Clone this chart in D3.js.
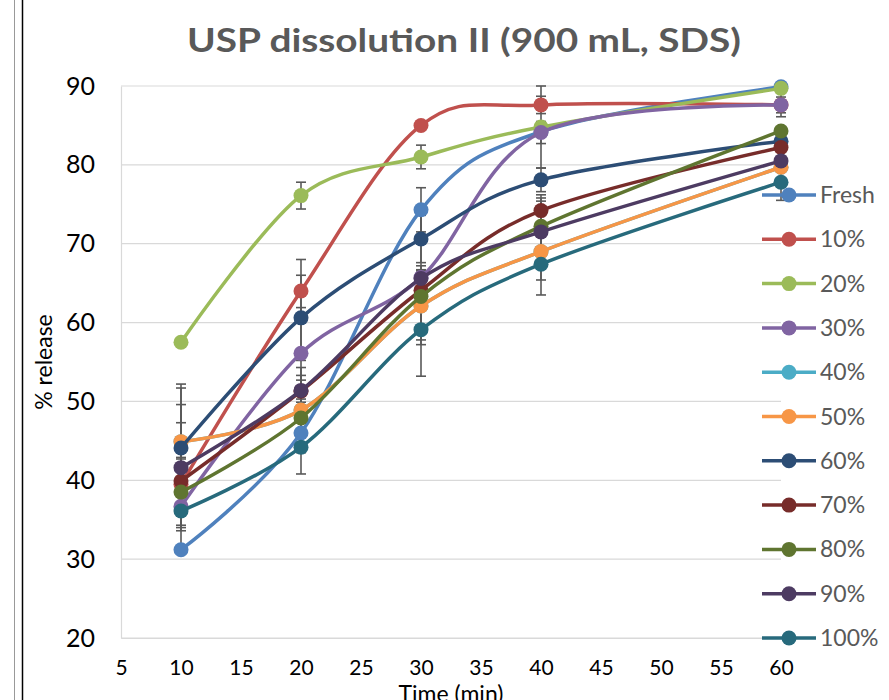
<!DOCTYPE html>
<html>
<head>
<meta charset="utf-8">
<script src="https://cdn.jsdelivr.net/npm/d3@7"></script>
<style>
  body { margin: 0; background: #fff; }
  svg { display: block; }
</style>
</head>
<body>
<svg id="chart" width="889" height="700"></svg>
<script>
// sampling times (min)
const times = [10, 20, 30, 40, 60];
const xTicks = [5, 10, 15, 20, 25, 30, 35, 40, 45, 50, 55, 60];
const yTicks = [20, 30, 40, 50, 60, 70, 80, 90];

const seriesNames = ["Fresh", "10%", "20%", "30%", "40%", "50%", "60%", "70%", "80%", "90%", "100%"];
const seriesColors = ["#4F81BD", "#C0504D", "#9BBB59", "#8064A2", "#4BACC6", "#F79646",
                      "#2C4D75", "#772C2A", "#5F7530", "#4D3B62", "#276A7C"];

// % release per series
const fresh = [31.2, 46.0, 74.3, 84.2, 89.9];
const p10 = [39.5, 64.0, 85.0, 87.6, 87.6];
const p20 = [57.5, 76.1, 81.0, 84.8, 89.7];
const p30 = [36.7, 56.1, 65.7, 84.1, 87.6];
const p40 = [44.9, 48.9, 62.1, 69.0, 79.7];
const p50 = [44.9, 48.9, 62.1, 69.0, 79.7];
const p60 = [44.1, 60.6, 70.6, 78.1, 83.0];
const p70 = [39.9, 51.3, 64.1, 74.2, 82.2];
const p80 = [38.5, 47.9, 63.3, 72.2, 84.3];
const p90 = [41.6, 51.4, 65.6, 71.5, 80.5];
const p100 = [36.1, 44.2, 59.1, 67.4, 77.8];

// +/- error (SD)
const errFresh = [0, 0, 2.8, 0, 0];
const err10 = [7.8, 4.0, 0, 1.1, 1.0];
const err20 = [0, 1.7, 1.5, 5.2, 0];
const err30 = [2.7, 5.8, 8.5, 1.4, 1.5];
const err40 = [0, 0, 0, 0, 0];
const err50 = [6.8, 5.4, 4.3, 5.5, 0];
const err60 = [8.1, 5.4, 3.0, 1.5, 0.5];
const err70 = [3.0, 1.4, 2.6, 2.0, 0.5];
const err80 = [4.2, 3.9, 3.9, 3.6, 0.5];
const err90 = [8.0, 1.9, 1.0, 3.9, 0.5];
const err100 = [0, 3.4, 5.9, 2.0, 2.3];

const allValues = [fresh, p10, p20, p30, p40, p50, p60, p70, p80, p90, p100];
const allErrors = [errFresh, err10, err20, err30, err40, err50, err60, err70, err80, err90, err100];

const series = seriesNames.map((name, i) => ({
  name: name,
  color: seriesColors[i],
  points: times.map((t, j) => ({ t: t, v: allValues[i][j], e: allErrors[i][j] }))
}));

const svg = d3.select("#chart");
const font = "Lato, 'Open Sans', sans-serif";

const x = d3.scaleLinear().domain([5, 60]).range([121, 781]);
const y = d3.scaleLinear().domain([20, 90]).range([638, 86]);

// frame lines on the left
svg.append("line").attr("x1", 14.5).attr("x2", 14.5).attr("y1", 0).attr("y2", 700)
  .attr("stroke", "#999").attr("stroke-width", 1);
svg.append("line").attr("x1", 22.5).attr("x2", 22.5).attr("y1", 0).attr("y2", 700)
  .attr("stroke", "#000").attr("stroke-width", 1.5);

// title
svg.append("text")
  .attr("x", 464).attr("y", 52)
  .attr("text-anchor", "middle")
  .attr("font-family", font).attr("font-weight", "bold").attr("font-size", 33)
  .attr("fill", "#595959")
  .attr("textLength", 554).attr("lengthAdjust", "spacingAndGlyphs")
  .text("USP dissolution II (900 mL, SDS)");

// gridlines
svg.append("g")
  .selectAll("line")
  .data(yTicks)
  .enter()
  .append("line")
  .attr("x1", x(5)).attr("x2", x(60))
  .attr("y1", d => y(d)).attr("y2", d => y(d))
  .attr("stroke", "#D9D9D9").attr("stroke-width", 1.2);

// y axis
const yAxis = svg.append("g")
  .attr("transform", `translate(${x(5)},0)`)
  .call(d3.axisLeft(y).tickValues(yTicks).tickSize(0).tickPadding(26));
yAxis.select(".domain").attr("stroke", "#D9D9D9").attr("stroke-width", 1.2);
yAxis.selectAll("text").attr("font-family", font).attr("font-size", 25).attr("fill", "#000");

// x axis
const xAxis = svg.append("g")
  .attr("transform", `translate(0,${y(20)})`)
  .call(d3.axisBottom(x).tickValues(xTicks).tickSize(0).tickPadding(22));
xAxis.select(".domain").attr("stroke", "#D9D9D9").attr("stroke-width", 1.2);
xAxis.selectAll("text").attr("font-family", font).attr("font-size", 21).attr("fill", "#000");

// axis titles
svg.append("text")
  .attr("transform", "translate(52,362) rotate(-90)")
  .attr("text-anchor", "middle")
  .attr("font-family", font).attr("font-size", 23).attr("fill", "#000")
  .text("% release");
svg.append("text")
  .attr("x", 451).attr("y", 702)
  .attr("text-anchor", "middle")
  .attr("font-family", font).attr("font-size", 23).attr("fill", "#000")
  .text("Time (min)");

// error bars
const errG = svg.append("g");
series.forEach(s => {
  s.points.filter(p => p.e > 0).forEach(p => {
    const cx = x(p.t);
    errG.append("line").attr("x1", cx).attr("x2", cx)
      .attr("y1", y(p.v - p.e)).attr("y2", y(p.v + p.e))
      .attr("stroke", "#595959").attr("stroke-width", 1.6);
    [p.v - p.e, p.v + p.e].forEach(v => {
      errG.append("line").attr("x1", cx - 5).attr("x2", cx + 5)
        .attr("y1", y(v)).attr("y2", y(v))
        .attr("stroke", "#595959").attr("stroke-width", 1.6);
    });
  });
});

// smoothed lines + markers
const line = d3.line()
  .x(d => x(d.t))
  .y(d => y(d.v))
  .curve(d3.curveCardinal.tension(0));

series.forEach(s => {
  const g = svg.append("g");
  g.append("path")
    .attr("d", line(s.points))
    .attr("fill", "none")
    .attr("stroke", s.color)
    .attr("stroke-width", 3.5)
    .attr("stroke-linecap", "round");
  g.selectAll("circle")
    .data(s.points)
    .enter()
    .append("circle")
    .attr("cx", d => x(d.t))
    .attr("cy", d => y(d.v))
    .attr("r", 7.5)
    .attr("fill", s.color);
});

// legend
const legend = svg.append("g");
series.forEach((s, i) => {
  const ly = 195 + i * 44.3;
  legend.append("line").attr("x1", 762).attr("x2", 816).attr("y1", ly).attr("y2", ly)
    .attr("stroke", s.color).attr("stroke-width", 3.5);
  legend.append("circle").attr("cx", 789).attr("cy", ly).attr("r", 7.5).attr("fill", s.color);
  legend.append("text").attr("x", 820).attr("y", ly)
    .attr("dy", "0.35em")
    .attr("font-family", font).attr("font-size", 23).attr("fill", "#595959")
    .text(s.name);
});
</script>
</body>
</html>
